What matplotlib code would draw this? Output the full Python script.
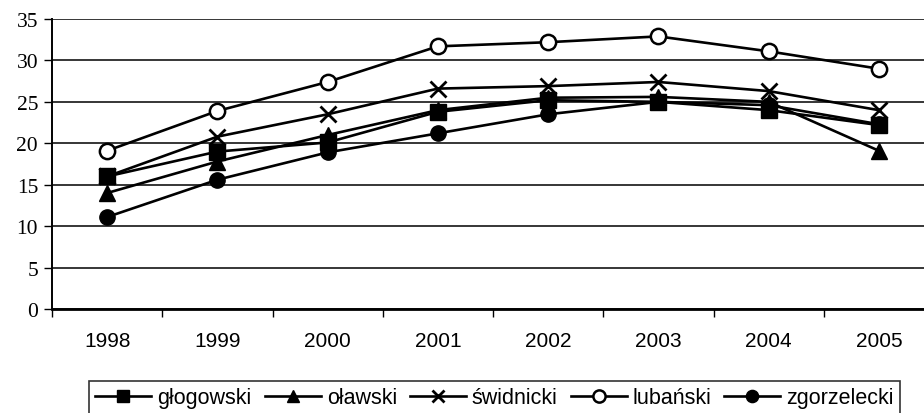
import matplotlib.pyplot as plt

years = ['1998', '1999', '2000', '2001', '2002', '2003', '2004', '2005']
glogowski = [16.0, 19.0, 20.1, 23.8, 25.2, 25.0, 24.0, 22.2]
olawski = [14.0, 17.8, 21.0, 24.0, 25.5, 25.6, 25.0, 19.1]
swidnicki = [16.0, 20.8, 23.5, 26.6, 26.9, 27.4, 26.3, 24.0]
lubanski = [19.1, 23.9, 27.4, 31.7, 32.2, 32.9, 31.1, 29.0]
zgorzelecki = [11.1, 15.6, 18.9, 21.2, 23.5, 25.0, 24.6, 22.3]

fig = plt.figure(figsize=(9.24, 4.14), dpi=100)
# plot area runs past the right edge, like the cropped original
ax = fig.add_axes([52 / 924, 1 - 310 / 414, 882 / 924, 290 / 414])

x = list(range(len(years)))
kw = dict(color='black', lw=1.9, markersize=11)
ax.plot(x, glogowski, marker='s', label='głogowski', **kw)
ax.plot(x, olawski, marker='^', label='oławski', **kw)
ax.plot(x, swidnicki, marker='x', markeredgewidth=2.0, label='świdnicki', **kw)
ax.plot(x, lubanski, marker='o', markerfacecolor='white', markeredgewidth=1.8, label='lubański', **kw)
ax.plot(x, zgorzelecki, marker='o', label='zgorzelecki', **kw)

ax.set_xlim(-0.5, 7.5)
ax.set_ylim(0, 35)
ax.set_yticks(range(0, 36, 5))
ax.yaxis.grid(True, color='black', lw=1.1)
ax.set_axisbelow(True)

# category labels between boundary ticks
ax.set_xticks([i + 0.5 for i in range(-1, 8)])
ax.set_xticklabels([])
ax.set_xticks(x, minor=True)
ax.set_xticklabels(years, minor=True, fontsize=15, family='Liberation Sans')
ax.tick_params(axis='x', which='minor', length=0, pad=16)
ax.tick_params(axis='x', which='major', length=6, direction='out', width=1)
ax.tick_params(axis='y', length=6, direction='out', width=1, pad=4)
for lab in ax.get_yticklabels():
    lab.set_family('Liberation Serif')
    lab.set_fontsize(15.5)

for s in ['top', 'right']:
    ax.spines[s].set_visible(False)
ax.spines['left'].set_linewidth(1.4)
ax.spines['bottom'].set_linewidth(2.0)

leg = fig.legend(loc='upper left', bbox_to_anchor=(89 / 924, 1 - 382 / 414), ncol=5,
                 frameon=True, fancybox=False, edgecolor='black',
                 prop={'family': 'Liberation Sans', 'size': 15.5},
                 handlelength=2.6, handletextpad=0.28, columnspacing=0.6,
                 borderpad=0.3, borderaxespad=0.0, markerscale=0.8)
leg.get_frame().set_linewidth(1.2)

plt.savefig('out.png', dpi=100)
